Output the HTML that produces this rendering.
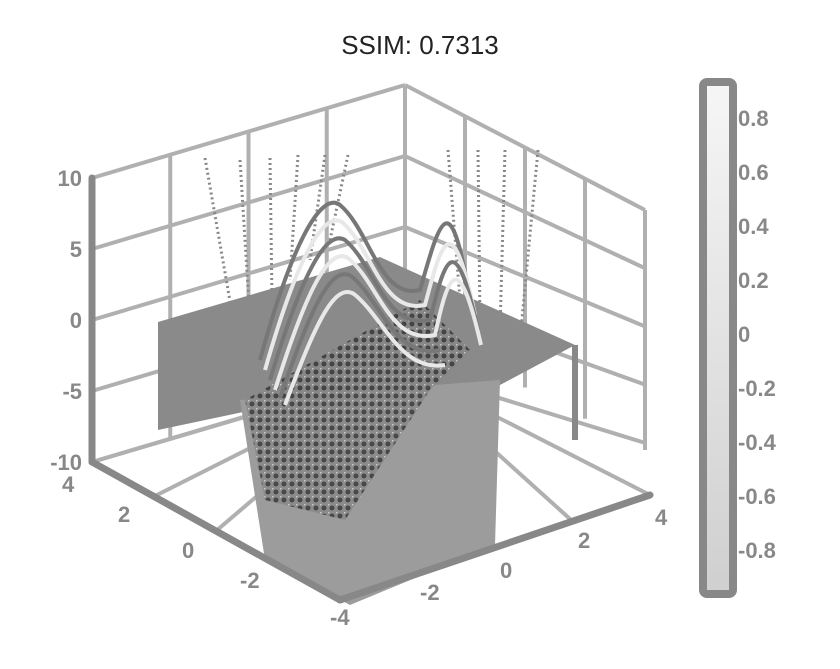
<!DOCTYPE html>
<html><head><meta charset="utf-8"><style>
body{margin:0;background:#fff;width:840px;height:664px;overflow:hidden;font-family:"Liberation Sans",sans-serif}
</style></head><body>
<svg width="840" height="664" id="c">
<text x="420" y="54" text-anchor="middle" font-size="26" fill="#222">SSIM: 0.7313</text>
<defs><linearGradient id="g" x1="0" y1="0" x2="0" y2="1"><stop offset="0" stop-color="#f6f6f6"/><stop offset="1" stop-color="#cfcfcf"/></linearGradient>
<pattern id="p" width="8" height="8" patternUnits="userSpaceOnUse"><rect width="8" height="8" fill="#888"/><circle cx="4" cy="4" r="2.5" fill="#333"/><circle cx="0" cy="0" r="1.5" fill="#ddd"/></pattern></defs>
<g id="grid" stroke="#b0b0b0" stroke-width="4" fill="none"></g>
<g stroke="#888" stroke-width="3" stroke-dasharray="2 3">
<line x1="205" y1="158" x2="235" y2="330"/><line x1="240" y1="160" x2="250" y2="320"/><line x1="270" y1="158" x2="272" y2="300"/><line x1="298" y1="155" x2="290" y2="280"/><line x1="325" y1="155" x2="310" y2="260"/><line x1="348" y1="155" x2="330" y2="240"/><line x1="448" y1="150" x2="460" y2="300"/><line x1="478" y1="150" x2="480" y2="320"/><line x1="505" y1="150" x2="500" y2="330"/><line x1="538" y1="150" x2="520" y2="340"/>
</g>
<g>
<polygon points="158,322 380,257 575,345 500,385 300,400 158,430" fill="#8a8a8a"/>
<polygon points="240,400 500,380 495,545 350,605 265,560" fill="#9c9c9c"/>
<polygon points="245,400 420,300 470,350 430,390 345,520 265,500" fill="url(#p)" opacity="0.8"/>
<g fill="none" stroke-width="4">
<path d="M260,360 C290,250 320,190 340,205 C370,230 380,300 420,290 C440,220 450,180 470,300" stroke="#777"/>
<path d="M265,370 C295,265 322,210 342,222 C372,248 382,315 425,305 C442,240 452,205 475,315" stroke="#e8e8e8"/>
<path d="M270,380 C300,280 325,228 345,240 C375,265 385,330 430,320 C445,258 455,225 478,330" stroke="#777"/>
<path d="M275,390 C305,295 328,246 348,258 C378,282 390,345 435,335 C448,275 458,245 481,345" stroke="#e8e8e8"/>
<path d="M280,398 C310,310 331,264 351,276 C381,300 395,360 440,350" stroke="#777"/>
<path d="M285,405 C315,325 334,282 354,294 C384,318 400,372 445,365" stroke="#e8e8e8"/>
</g>
<line x1="575" y1="345" x2="575" y2="440" stroke="#888" stroke-width="6"/>
</g>
<g id="axes" stroke="#888" stroke-width="7" fill="none" stroke-linecap="round">
<line x1="92" y1="178" x2="92" y2="462"/>
<line x1="92" y1="462" x2="340" y2="600"/>
<line x1="340" y1="600" x2="650" y2="495"/>
</g>
<g id="zt" fill="#888" font-size="22" font-weight="bold" text-anchor="end"></g>
<g fill="#888" font-size="22" font-weight="bold">
<text x="62" y="492">4</text><text x="118" y="522">2</text><text x="182" y="558">0</text><text x="240" y="588">-2</text><text x="330" y="625">-4</text>
<text x="655" y="525">4</text><text x="578" y="548">2</text><text x="500" y="578">0</text><text x="420" y="600">-2</text>
</g>
<rect x="703" y="82" width="30" height="512" rx="4" fill="url(#g)" stroke="#888" stroke-width="8"/>
<g id="cb" fill="#888" font-size="22" font-weight="bold"></g>
</svg>
<script>
const zTicks=[10,5,0,-5,-10];
const cbTicks=["0.8","0.6","0.4","0.2","0","-0.2","-0.4","-0.6","-0.8"];
const cbVals=[0.8,0.6,0.4,0.2,0,-0.2,-0.4,-0.6,-0.8];
const NS="http://www.w3.org/2000/svg";
function zY(v){return 462-(v+10)/20*284;}
function cbY(v){return 334-v/0.8*216;}
const grid=document.getElementById('grid');
function ln(p,x1,y1,x2,y2){const l=document.createElementNS(NS,'line');l.setAttribute('x1',x1);l.setAttribute('y1',y1);l.setAttribute('x2',x2);l.setAttribute('y2',y2);


p.appendChild(l);}
zTicks.forEach(v=>{const d=zY(v)-178;ln(grid,92,178+d,405,85+d);ln(grid,405,85+d,645,210+d*0.82);});
for(let i=0;i<=4;i++){const t=i/4;ln(grid,92+t*313,178-t*93,92+t*313,462-t*93);ln(grid,405+t*240,85+t*125,405+t*240,85+t*125+240);}
for(let i=0;i<=4;i++){const t=i/4;ln(grid,92+t*248,462+t*138,405,370);ln(grid,405,370,340+t*310,600-t*105);}
const zt=document.getElementById('zt');
zTicks.forEach(v=>{const t=document.createElementNS(NS,'text');t.setAttribute('x',82);t.setAttribute('y',zY(v)+8);t.textContent=v;


zt.appendChild(t);});
const cb=document.getElementById('cb');
cbVals.forEach((v,i)=>{const t=document.createElementNS(NS,'text');t.setAttribute('x',738);t.setAttribute('y',cbY(v)+8);t.textContent=cbTicks[i];


cb.appendChild(t);});
</script>
</body></html>
